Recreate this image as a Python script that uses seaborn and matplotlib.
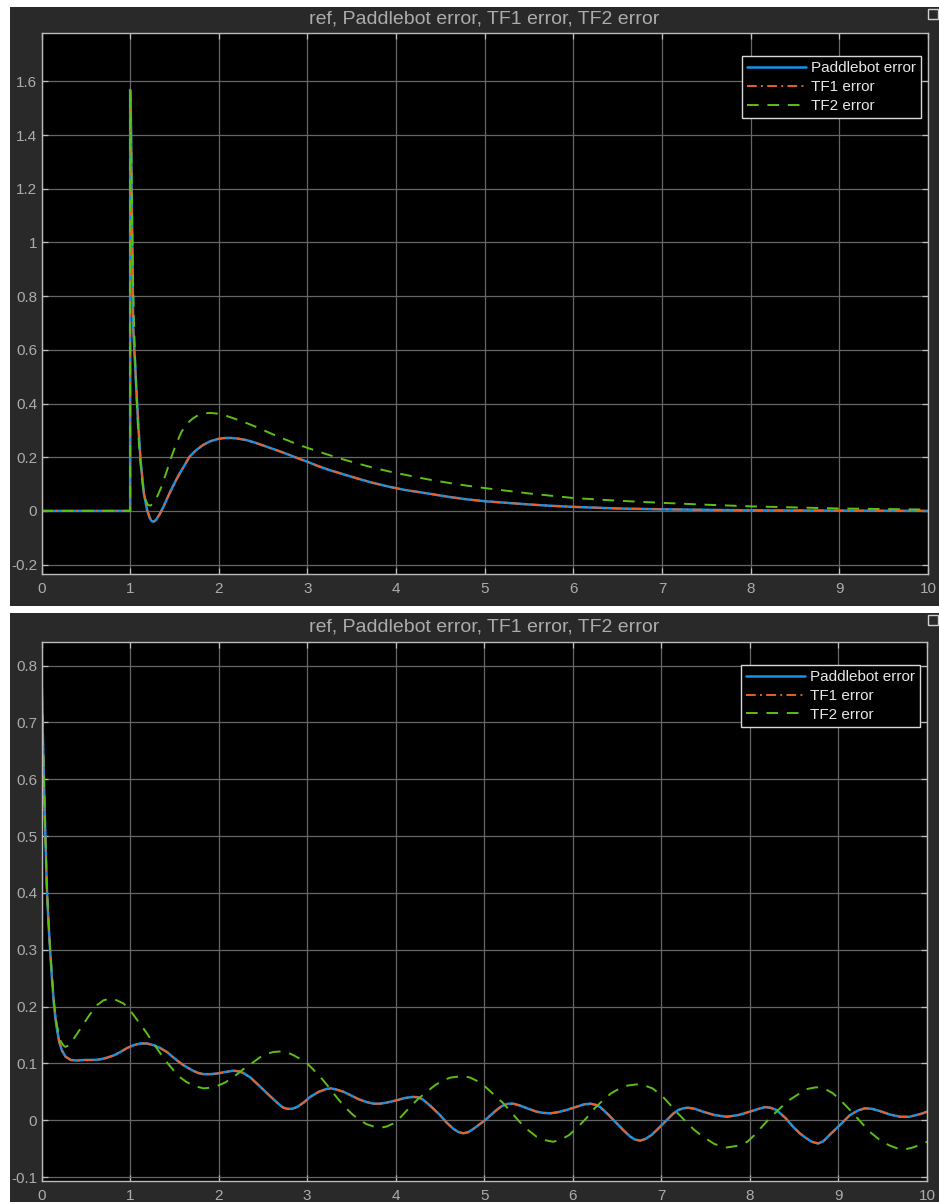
import numpy as np
import pandas as pd
import matplotlib
matplotlib.use("Agg")
import matplotlib.pyplot as plt
from matplotlib.patches import Rectangle
from matplotlib.ticker import FormatStrFormatter
import seaborn as sns

# ---------------- data ----------------
series_names = ["Paddlebot error", "TF1 error", "TF2 error"]
title_text = "ref, Paddlebot error, TF1 error, TF2 error"

# top panel (step at t = 1)
top_t_pb = [0, 1.0, 1.0, 1.01, 1.017, 1.027, 1.034, 1.05, 1.072, 1.094, 1.117, 1.154, 1.19,
            1.22, 1.24, 1.255, 1.27, 1.29, 1.315, 1.34, 1.375, 1.41, 1.445, 1.48, 1.52, 1.56,
            1.61, 1.67, 1.74, 1.82, 1.9, 1.99, 2.05, 2.12, 2.2, 2.31, 2.42, 2.54, 2.67, 2.8,
            2.9, 3.0, 3.12, 3.25, 3.4, 3.55, 3.72, 3.92, 4.1, 4.3, 4.45, 4.6, 4.8, 5.0, 5.25,
            5.5, 5.75, 6.0, 6.5, 7.0, 7.5, 8.0, 9.0, 10.0]
top_v_pb = [0, 0, 1.568, 1.43, 1.18, 0.93, 0.685, 0.58, 0.44, 0.31, 0.19, 0.067, 0.005,
            -0.025, -0.037, -0.04, -0.039, -0.034, -0.022, -0.008, 0.015, 0.041, 0.066, 0.09,
            0.116, 0.14, 0.168, 0.202, 0.225, 0.245, 0.259, 0.268, 0.271, 0.272, 0.27, 0.264,
            0.253, 0.239, 0.224, 0.208, 0.195, 0.183, 0.167, 0.152, 0.137, 0.122, 0.106,
            0.09, 0.078, 0.068, 0.06, 0.052, 0.043, 0.036, 0.03, 0.024, 0.019, 0.015, 0.009,
            0.006, 0.004, 0.002, 0.001, 0.0]
top_t_tf1 = [0, 1.0, 1.0, 1.01, 1.017, 1.027, 1.034, 1.05, 1.072, 1.094, 1.117, 1.154, 1.19,
             1.22, 1.24, 1.255, 1.27, 1.29, 1.315, 1.34, 1.375, 1.41, 1.445, 1.48, 1.52, 1.56,
             1.61, 1.67, 1.74, 1.82, 1.9, 1.99, 2.05, 2.12, 2.2, 2.31, 2.42, 2.54, 2.67, 2.8,
             2.9, 3.0, 3.12, 3.25, 3.4, 3.55, 3.72, 3.92, 4.1, 4.3, 4.45, 4.6, 4.8, 5.0, 5.25,
             5.5, 5.75, 6.0, 6.5, 7.0, 7.5, 8.0, 9.0, 10.0]
top_v_tf1 = [0, 0, 1.568, 1.43, 1.18, 0.93, 0.685, 0.58, 0.44, 0.31, 0.19, 0.067, 0.005,
             -0.025, -0.037, -0.04, -0.039, -0.034, -0.022, -0.008, 0.015, 0.041, 0.066, 0.09,
             0.116, 0.14, 0.168, 0.202, 0.225, 0.245, 0.259, 0.268, 0.271, 0.272, 0.27, 0.264,
             0.253, 0.239, 0.224, 0.208, 0.195, 0.183, 0.167, 0.152, 0.137, 0.122, 0.106,
             0.09, 0.078, 0.068, 0.06, 0.052, 0.043, 0.036, 0.03, 0.024, 0.019, 0.015, 0.009,
             0.006, 0.004, 0.002, 0.001, 0.0]
top_t_tf2 = [0, 1.0, 1.0, 1.01, 1.02, 1.03, 1.045, 1.065, 1.09, 1.11, 1.14, 1.17, 1.2, 1.23,
             1.26, 1.3, 1.353, 1.41, 1.466, 1.52, 1.58, 1.64, 1.71, 1.77, 1.84, 1.9, 1.97,
             2.05, 2.12, 2.27, 2.42, 2.57, 2.72, 2.85, 2.98, 3.17, 3.36, 3.55, 3.73, 3.92,
             4.11, 4.35, 4.6, 4.8, 5.0, 5.5, 6.0, 6.5, 7.0, 7.5, 8.0, 8.5, 9.0, 9.5, 10.0]
top_v_tf2 = [0, 0, 1.568, 1.40, 1.15, 0.9, 0.68, 0.48, 0.3, 0.2, 0.1, 0.045, 0.022, 0.02,
             0.028, 0.05, 0.09, 0.145, 0.202, 0.25, 0.295, 0.325, 0.345, 0.357, 0.363, 0.365,
             0.363, 0.358, 0.35, 0.333, 0.313, 0.291, 0.27, 0.253, 0.237, 0.216, 0.196, 0.178,
             0.162, 0.147, 0.134, 0.118, 0.104, 0.094, 0.085, 0.065, 0.048, 0.038, 0.03,
             0.023, 0.017, 0.013, 0.009, 0.007, 0.005]

# bottom panel
bot_t_pb = [0, 0.02, 0.04, 0.06, 0.08, 0.1, 0.12, 0.14, 0.16, 0.177, 0.2, 0.23, 0.27, 0.33,
            0.4, 0.48, 0.58, 0.665, 0.74, 0.816, 0.89, 0.966, 1.04, 1.117, 1.19, 1.267, 1.34,
            1.417, 1.5, 1.6, 1.7, 1.77, 1.83, 1.9, 1.98, 2.08, 2.17, 2.23, 2.28, 2.36, 2.47,
            2.57, 2.66, 2.72, 2.77, 2.83, 2.885, 2.96, 3.035, 3.13, 3.22, 3.27, 3.33, 3.41,
            3.49, 3.58, 3.67, 3.75, 3.82, 3.9, 4.01, 4.1, 4.2, 4.26, 4.31, 4.4, 4.5, 4.58,
            4.65, 4.71, 4.765, 4.82, 4.88, 4.95, 5.01, 5.08, 5.14, 5.2, 5.27, 5.33, 5.4, 5.5,
            5.59, 5.66, 5.74, 5.83, 5.93, 6.05, 6.13, 6.2, 6.26, 6.31, 6.4, 6.5, 6.58, 6.65,
            6.7, 6.76, 6.82, 6.89, 6.97, 7.06, 7.13, 7.19, 7.25, 7.3, 7.38, 7.47, 7.6, 7.74,
            7.87, 8.0, 8.1, 8.17, 8.23, 8.3, 8.4, 8.49, 8.57, 8.64, 8.7, 8.77, 8.83, 8.9, 9.0,
            9.13, 9.22, 9.3, 9.38, 9.47, 9.58, 9.7, 9.8, 9.88, 9.95, 10.0]
bot_v_pb = [0.786, 0.645, 0.52, 0.41, 0.345, 0.293, 0.245, 0.205, 0.177, 0.158, 0.138, 0.123,
            0.112, 0.106, 0.105, 0.106, 0.106, 0.107, 0.11, 0.114, 0.12, 0.127, 0.132, 0.135,
            0.135, 0.132, 0.127, 0.12, 0.109, 0.097, 0.088, 0.083, 0.081, 0.081, 0.082, 0.085,
            0.087, 0.086, 0.083, 0.075, 0.059, 0.044, 0.031, 0.023, 0.02, 0.02, 0.023, 0.031,
            0.041, 0.05, 0.055, 0.056, 0.054, 0.05, 0.044, 0.037, 0.032, 0.029, 0.029, 0.031,
            0.035, 0.039, 0.041, 0.04, 0.036, 0.024, 0.009, -0.005, -0.015, -0.021, -0.023,
            -0.021, -0.015, -0.007, 0.0, 0.01, 0.018, 0.025, 0.029, 0.029, 0.026, 0.02, 0.015,
            0.013, 0.012, 0.014, 0.018, 0.024, 0.028, 0.029, 0.027, 0.023, 0.01, -0.006,
            -0.019, -0.029, -0.034, -0.036, -0.033, -0.026, -0.014, 0.0, 0.011, 0.018, 0.021,
            0.022, 0.02, 0.015, 0.009, 0.006, 0.009, 0.015, 0.02, 0.023, 0.022, 0.018, 0.004,
            -0.012, -0.024, -0.032, -0.038, -0.041, -0.037, -0.026, -0.011, 0.009, 0.017,
            0.021, 0.02, 0.016, 0.01, 0.006, 0.006, 0.009, 0.012, 0.015]
bot_t_tf1 = [0, 0.02, 0.04, 0.06, 0.08, 0.1, 0.12, 0.14, 0.16, 0.177, 0.2, 0.23, 0.27, 0.33,
             0.4, 0.48, 0.58, 0.665, 0.74, 0.816, 0.89, 0.966, 1.04, 1.117, 1.19, 1.267, 1.34,
             1.417, 1.5, 1.6, 1.7, 1.77, 1.83, 1.9, 1.98, 2.08, 2.17, 2.23, 2.28, 2.36, 2.47,
             2.57, 2.66, 2.72, 2.77, 2.83, 2.885, 2.96, 3.035, 3.13, 3.22, 3.27, 3.33, 3.41,
             3.49, 3.58, 3.67, 3.75, 3.82, 3.9, 4.01, 4.1, 4.2, 4.26, 4.31, 4.4, 4.5, 4.58,
             4.65, 4.71, 4.765, 4.82, 4.88, 4.95, 5.01, 5.08, 5.14, 5.2, 5.27, 5.33, 5.4, 5.5,
             5.59, 5.66, 5.74, 5.83, 5.93, 6.05, 6.13, 6.2, 6.26, 6.31, 6.4, 6.5, 6.58, 6.65,
             6.7, 6.76, 6.82, 6.89, 6.97, 7.06, 7.13, 7.19, 7.25, 7.3, 7.38, 7.47, 7.6, 7.74,
             7.87, 8.0, 8.1, 8.17, 8.23, 8.3, 8.4, 8.49, 8.57, 8.64, 8.7, 8.77, 8.83, 8.9, 9.0,
             9.13, 9.22, 9.3, 9.38, 9.47, 9.58, 9.7, 9.8, 9.88, 9.95, 10.0]
bot_v_tf1 = [0.786, 0.645, 0.52, 0.41, 0.345, 0.293, 0.245, 0.205, 0.177, 0.158, 0.138, 0.123,
             0.112, 0.106, 0.105, 0.106, 0.106, 0.107, 0.11, 0.114, 0.12, 0.127, 0.132, 0.135,
             0.135, 0.132, 0.127, 0.12, 0.109, 0.097, 0.088, 0.083, 0.081, 0.081, 0.082, 0.085,
             0.087, 0.086, 0.083, 0.075, 0.059, 0.044, 0.031, 0.023, 0.02, 0.02, 0.023, 0.031,
             0.041, 0.05, 0.055, 0.056, 0.054, 0.05, 0.044, 0.037, 0.032, 0.029, 0.029, 0.031,
             0.035, 0.039, 0.041, 0.04, 0.036, 0.024, 0.009, -0.005, -0.015, -0.021, -0.023,
             -0.021, -0.015, -0.007, 0.0, 0.01, 0.018, 0.025, 0.029, 0.029, 0.026, 0.02, 0.015,
             0.013, 0.012, 0.014, 0.018, 0.024, 0.028, 0.029, 0.027, 0.023, 0.01, -0.006,
             -0.019, -0.029, -0.034, -0.036, -0.033, -0.026, -0.014, 0.0, 0.011, 0.018, 0.021,
             0.022, 0.02, 0.015, 0.009, 0.006, 0.009, 0.015, 0.02, 0.023, 0.022, 0.018, 0.004,
             -0.012, -0.024, -0.032, -0.038, -0.041, -0.037, -0.026, -0.011, 0.009, 0.017,
             0.021, 0.02, 0.016, 0.01, 0.006, 0.006, 0.009, 0.012, 0.015]
bot_t_tf2 = [0, 0.02, 0.04, 0.06, 0.08, 0.1, 0.12, 0.14, 0.16, 0.177, 0.2, 0.22, 0.25, 0.27,
             0.31, 0.35, 0.41, 0.477, 0.55, 0.628, 0.7, 0.779, 0.85, 0.93, 0.98, 1.04, 1.11,
             1.19, 1.26, 1.34, 1.41, 1.49, 1.56, 1.64, 1.73, 1.83, 1.9, 1.98, 2.07, 2.17, 2.28,
             2.4, 2.47, 2.545, 2.62, 2.7, 2.78, 2.85, 2.92, 3.0, 3.07, 3.15, 3.24, 3.33, 3.42,
             3.52, 3.6, 3.67, 3.75, 3.84, 3.9, 3.97, 4.06, 4.16, 4.25, 4.35, 4.44, 4.53, 4.62,
             4.72, 4.78, 4.84, 4.92, 5.01, 5.11, 5.22, 5.31, 5.4, 5.5, 5.59, 5.68, 5.78, 5.87,
             5.96, 6.05, 6.15, 6.24, 6.34, 6.43, 6.53, 6.62, 6.72, 6.81, 6.9, 7.0, 7.09, 7.18,
             7.28, 7.37, 7.47, 7.6, 7.74, 7.86, 7.97, 8.06, 8.15, 8.24, 8.34, 8.45, 8.56, 8.65,
             8.75, 8.85, 8.94, 9.03, 9.13, 9.24, 9.35, 9.46, 9.57, 9.67, 9.76, 9.84, 9.91, 10.0]
bot_v_tf2 = [0.786, 0.645, 0.52, 0.41, 0.345, 0.295, 0.25, 0.21, 0.18, 0.165, 0.148, 0.138,
             0.131, 0.129, 0.132, 0.14, 0.154, 0.17, 0.187, 0.2025, 0.211, 0.214, 0.211, 0.205,
             0.197, 0.185, 0.17, 0.153, 0.136, 0.118, 0.103, 0.088, 0.076, 0.067, 0.06, 0.056,
             0.057, 0.06, 0.066, 0.076, 0.09, 0.103, 0.111, 0.117, 0.12, 0.121, 0.119, 0.114,
             0.108, 0.1, 0.089, 0.076, 0.059, 0.041, 0.024, 0.009, 0.0, -0.007, -0.011, -0.013,
             -0.011, -0.006, 0.006, 0.023, 0.037, 0.05, 0.061, 0.07, 0.075, 0.077, 0.077, 0.075,
             0.069, 0.059, 0.045, 0.029, 0.013, -0.003, -0.018, -0.029, -0.035, -0.038, -0.034,
             -0.026, -0.013, 0.003, 0.02, 0.035, 0.047, 0.056, 0.061, 0.063, 0.061, 0.056,
             0.044, 0.029, 0.013, -0.003, -0.017, -0.029, -0.042, -0.048, -0.045, -0.038,
             -0.025, -0.009, 0.006, 0.021, 0.036, 0.047, 0.055, 0.058, 0.055, 0.047, 0.034,
             0.018, -0.001, -0.02, -0.034, -0.044, -0.05, -0.051, -0.048, -0.044, -0.038]

top_yticks = [-0.2, 0, 0.2, 0.4, 0.6, 0.8, 1.0, 1.2, 1.4, 1.6]
bot_yticks = [-0.1, 0, 0.1, 0.2, 0.3, 0.4, 0.5, 0.6, 0.7, 0.8]
xticks = list(range(0, 11))

# ---------------- style ----------------
sns.set_theme(style="dark")
plt.rcParams["font.family"] = ["Liberation Sans", "DejaVu Sans"]

W, H = 939, 1202
PANEL = "#292929"
TXT = "#acacac"
GRID = "#666666"
SPINE = "#bcbcbc"
palette = {"Paddlebot error": "#1493e6", "TF1 error": "#e8602a", "TF2 error": "#5cbf16"}
dashes = {"Paddlebot error": "", "TF1 error": (5, 2.2, 1, 2.2), "TF2 error": (6, 4.5)}
widths = {"Paddlebot error": 1.8, "TF1 error": 1.4, "TF2 error": 1.4}

fig = plt.figure(figsize=(W / 100, H / 100), dpi=100, facecolor="white")


def fig_rect(x0, y0, x1, y1):
    return [x0 / W, 1 - y1 / H, (x1 - x0) / W, (y1 - y0) / H]


def panel_bg(x0, y0, x1, y1):
    l, b, w, h = fig_rect(x0, y0, x1, y1)
    fig.add_artist(Rectangle((l, b), w, h, transform=fig.transFigure,
                             facecolor=PANEL, edgecolor="none", zorder=0))
    # small undock icon in the top right corner
    l2, b2, w2, h2 = fig_rect(928, y0 + 2, 938, y0 + 12)
    fig.add_artist(Rectangle((l2, b2), w2, h2, transform=fig.transFigure,
                             facecolor="none", edgecolor="#d0d0d0", lw=1, zorder=1))


def make_df(ts, vs):
    rows = []
    for name, t, v in zip(series_names, ts, vs):
        rows.append(pd.DataFrame({"t": t, "value": v, "series": name}))
    return pd.concat(rows, ignore_index=True)


def draw_panel(rect_px, df, ylim, yticks, title_y):
    ax = fig.add_axes(fig_rect(*rect_px))
    ax.set_facecolor("black")
    for name in series_names:
        sub = df[df["series"] == name]
        sns.lineplot(data=sub, x="t", y="value", ax=ax, estimator=None, sort=False,
                     color=palette[name], lw=widths[name], label=name)
        line = ax.get_lines()[-1]
        line.set_solid_joinstyle("round")
        line.set_dash_joinstyle("round")
        if dashes[name]:
            line.set_dashes(dashes[name])
    ax.set_xlim(0, 10)
    ax.set_ylim(*ylim)
    ax.set_xticks(xticks)
    ax.set_yticks(yticks)
    ax.yaxis.set_major_formatter(FormatStrFormatter("%g"))
    ax.set_xlabel("")
    ax.set_ylabel("")
    ax.grid(True, color=GRID, lw=0.9)
    ax.tick_params(axis="both", direction="in", length=4, width=0.9, color=SPINE,
                   labelcolor=TXT, labelsize=11, top=True, right=True,
                   bottom=True, left=True, pad=3)
    ax.tick_params(axis="x", pad=6)
    for s in ax.spines.values():
        s.set_visible(True)
        s.set_color(SPINE)
        s.set_linewidth(1.0)
    handles, labels = ax.get_legend_handles_labels()
    for h, name in zip(handles, labels):
        if dashes[name]:
            h.set_dashes(dashes[name])
    leg = ax.legend(handles, labels, loc="upper right", bbox_to_anchor=(0.992, 0.957),
                    borderaxespad=0, frameon=True, fancybox=False, fontsize=11,
                    handlelength=3.9, handletextpad=0.3, labelspacing=0.32,
                    borderpad=0.32)
    leg.get_frame().set_facecolor("black")
    leg.get_frame().set_edgecolor("#d8d8d8")
    leg.get_frame().set_linewidth(1.0)
    leg.get_frame().set_alpha(1)
    for t in leg.get_texts():
        t.set_color("#e6e6e6")
    fig.text(484 / W, 1 - title_y / H, title_text, ha="center", va="center",
             color=TXT, fontsize=14)
    return ax


panel_bg(10, 7, 939, 606)
panel_bg(10, 613, 939, 1202)

df_top = make_df([top_t_pb, top_t_tf1, top_t_tf2], [top_v_pb, top_v_tf1, top_v_tf2])
df_bot = make_df([bot_t_pb, bot_t_tf1, bot_t_tf2], [bot_v_pb, bot_v_tf1, bot_v_tf2])

draw_panel((41.5, 33, 928, 574), df_top, (-0.235, 1.78), top_yticks, 19)
draw_panel((41.5, 642, 927, 1181), df_bot, (-0.107, 0.8415), bot_yticks, 627)

fig.savefig("out.png", dpi=100, facecolor="white")
